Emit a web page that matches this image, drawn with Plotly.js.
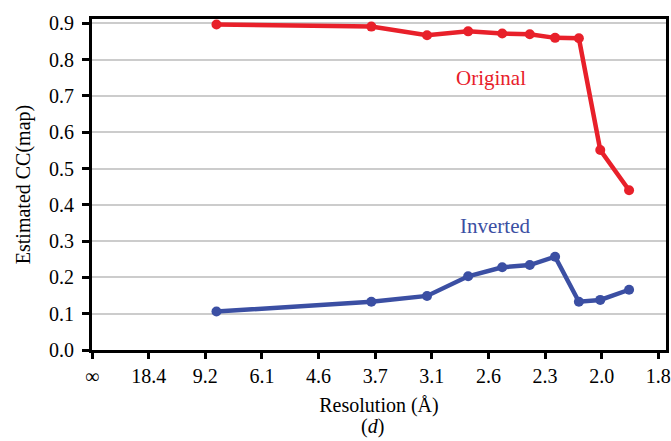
<!DOCTYPE html>
<html>
<head>
<meta charset="utf-8">
<script src="https://cdn.plot.ly/plotly-3.0.1.min.js"></script>
<style>
  html, body { margin: 0; padding: 0; background: #ffffff; }
  #chart { width: 671px; height: 441px; }
</style>
</head>
<body>
<div id="chart"></div>
<script>
// Resolution of each shell (Å); plotted on a 1/d scale
const resolution = [8.37, 3.73, 3.11, 2.77, 2.54, 2.38, 2.25, 2.14, 2.05, 1.94];
const ccOriginal = [0.897, 0.891, 0.867, 0.878, 0.872, 0.870, 0.860, 0.859, 0.551, 0.440];
const ccInverted = [0.106, 0.133, 0.149, 0.203, 0.228, 0.234, 0.257, 0.133, 0.138, 0.166];
const xTickLabels = ['∞', '18.4', '9.2', '6.1', '4.6', '3.7', '3.1', '2.6', '2.3', '2.0', '1.8'];
const yTickVals = [0, 0.1, 0.2, 0.3, 0.4, 0.5, 0.6, 0.7, 0.8, 0.9];

const invRes = resolution.map(d => 1 / d);
const tickStep = 1 / 18.4;
const xTickVals = xTickLabels.map((_, i) => i * tickStep);

const FONT = '"Liberation Serif", "Times New Roman", serif';
const RED = '#e8202a';
const BLUE = '#3b4fa3';

const traces = [
  {
    x: invRes, y: ccOriginal, type: 'scatter', mode: 'lines+markers',
    line: { color: RED, width: 4.5 }, marker: { color: RED, size: 10 },
    name: 'Original', hoverinfo: 'x+y'
  },
  {
    x: invRes, y: ccInverted, type: 'scatter', mode: 'lines+markers',
    line: { color: BLUE, width: 4.5 }, marker: { color: BLUE, size: 10 },
    name: 'Inverted', hoverinfo: 'x+y'
  }
];

const xRange = [0, 0.5509];

const layout = {
  width: 671, height: 441,
  margin: { l: 92, r: 5, t: 19, b: 91 },
  paper_bgcolor: '#ffffff', plot_bgcolor: '#ffffff',
  showlegend: false,
  font: { family: FONT, size: 20, color: '#000000' },
  xaxis: {
    range: xRange, tickvals: xTickVals, ticktext: xTickLabels,
    ticks: 'outside', ticklen: 6, tickwidth: 3, tickcolor: '#000',
    showline: true, linecolor: '#000', linewidth: 3, mirror: true,
    showgrid: false, zeroline: false,
    tickfont: { family: FONT, size: 20, color: '#000' },
    title: { text: 'Resolution (Å)', font: { family: FONT, size: 20, color: '#000' }, standoff: 12 },
    automargin: false
  },
  xaxis2: {
    overlaying: 'x', anchor: 'y', side: 'bottom',
    range: xRange, tickvals: xTickVals, showticklabels: false,
    ticks: 'inside', ticklen: 6, tickwidth: 3, tickcolor: '#000',
    showline: false, showgrid: false, zeroline: false
  },
  yaxis: {
    range: [0, 0.912], tickvals: yTickVals, tickformat: '.1f',
    ticks: 'outside', ticklen: 7, tickwidth: 3, tickcolor: '#000',
    ticklabelstandoff: 4,
    showline: true, linecolor: '#000', linewidth: 3, mirror: true,
    showgrid: true, gridcolor: '#cccccc', gridwidth: 2, zeroline: false,
    tickfont: { family: FONT, size: 20, color: '#000' },
    title: { text: 'Estimated CC(map)', font: { family: FONT, size: 20, color: '#000' }, standoff: 14 },
    automargin: false
  },
  annotations: [
    { x: 0.3829, y: 0.75, xref: 'x', yref: 'y', text: 'Original', showarrow: false,
      font: { family: FONT, size: 21, color: RED }, xanchor: 'center', yanchor: 'middle' },
    { x: 0.3872, y: 0.343, xref: 'x', yref: 'y', text: 'Inverted', showarrow: false,
      font: { family: FONT, size: 21, color: BLUE }, xanchor: 'center', yanchor: 'middle' },
    { x: 0.488, y: -0.232, xref: 'paper', yref: 'paper', text: '(<i>d</i>)', showarrow: false,
      font: { family: FONT, size: 20, color: '#000' }, xanchor: 'center', yanchor: 'middle' }
  ]
};

Plotly.newPlot('chart', traces, layout, { displayModeBar: false, staticPlot: true });
</script>
</body>
</html>
